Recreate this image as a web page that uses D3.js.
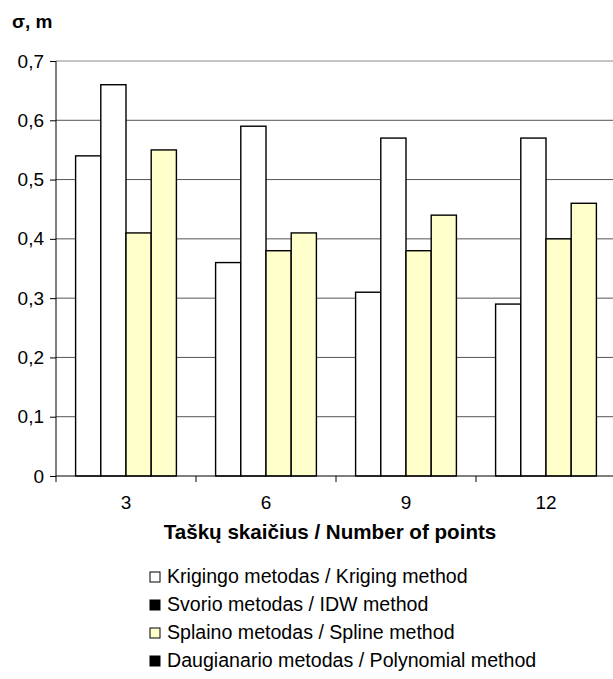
<!DOCTYPE html>
<html>
<head>
<meta charset="utf-8">
<script src="https://cdn.jsdelivr.net/npm/d3@7"></script>
<style>
  html, body { margin: 0; padding: 0; background: #fff; }
  svg { display: block; font-family: Arial, "Liberation Sans", sans-serif; }
</style>
</head>
<body>
<svg id="chart" width="613" height="679"></svg>
<script>
const categories = ["3", "6", "9", "12"];
const seriesNames = [
  "Krigingo metodas / Kriging method",
  "Svorio metodas / IDW method",
  "Splaino metodas / Spline method",
  "Daugianario metodas / Polynomial method"
];
const kriging    = [0.54, 0.36, 0.31, 0.29];
const idw        = [0.66, 0.59, 0.57, 0.57];
const spline     = [0.41, 0.38, 0.38, 0.40];
const polynomial = [0.55, 0.41, 0.44, 0.46];
const yTicks = [0, 0.1, 0.2, 0.3, 0.4, 0.5, 0.6, 0.7];
const barColors = ["#ffffff", "#ffffff", "#ffffcc", "#ffffcc"];
const legendColors = ["#ffffff", "#000000", "#ffffcc", "#000000"];
const yTitle = "σ, m";
const xTitle = "Taškų skaičius / Number of points";

const seriesValues = [kriging, idw, spline, polynomial];

const svg = d3.select("#chart");
const mLeft = 56, mRight = 616, mTop = 61, mBottom = 476;

const y = d3.scaleLinear().domain([0, 0.7]).range([mBottom, mTop]);
const x0 = d3.scaleBand().domain(categories).range([mLeft, mRight]).paddingInner(0.28).paddingOuter(0.14);
const x1 = d3.scaleBand().domain(d3.range(seriesNames.length)).range([0, x0.bandwidth()]);
const xb = d3.scaleLinear().domain([0, categories.length]).range([mLeft, mRight]);

// grid lines
svg.append("g").selectAll("line").data(yTicks.filter(d => d > 0)).join("line")
  .attr("x1", mLeft).attr("x2", mRight)
  .attr("y1", d => y(d)).attr("y2", d => y(d))
  .attr("stroke", d => d === 0.7 ? "#8a8a8a" : "#555").attr("stroke-width", 1);

// bars
const groups = svg.append("g").selectAll("g").data(categories).join("g")
  .attr("transform", c => `translate(${x0(c)},0)`);
groups.selectAll("rect").data((c, ci) => seriesValues.map((s, si) => ({si, v: s[ci]}))).join("rect")
  .attr("x", d => x1(d.si))
  .attr("width", x1.bandwidth())
  .attr("y", d => y(d.v))
  .attr("height", d => y(0) - y(d.v))
  .attr("fill", d => barColors[d.si])
  .attr("stroke", "#000").attr("stroke-width", 1.4);

// y axis
const yAxis = svg.append("g").attr("transform", `translate(${mLeft},0)`)
  .call(d3.axisLeft(y).tickValues(yTicks).tickSize(6).tickPadding(6)
    .tickFormat(d => d === 0 ? "0" : d3.format(".1f")(d).replace(".", ",")));
yAxis.select(".domain").attr("stroke", "#000").attr("d", `M0,${mBottom}V${mTop}`);
yAxis.selectAll(".tick line").attr("stroke", "#000");
yAxis.selectAll("text").attr("font-size", 19).attr("fill", "#000")
  .attr("font-family", "Arial, 'Liberation Sans', sans-serif");

// x axis
svg.append("line").attr("x1", mLeft).attr("x2", mRight).attr("y1", mBottom).attr("y2", mBottom)
  .attr("stroke", "#000").attr("stroke-width", 1.2);
svg.append("g").selectAll("line").data(d3.range(categories.length + 1)).join("line")
  .attr("x1", d => xb(d)).attr("x2", d => xb(d))
  .attr("y1", mBottom).attr("y2", mBottom + 6)
  .attr("stroke", "#000");
svg.append("g").selectAll("text").data(categories).join("text")
  .attr("x", c => x0(c) + x0.bandwidth() / 2)
  .attr("y", 509)
  .attr("text-anchor", "middle")
  .attr("font-size", 19)
  .text(c => c);

// titles
svg.append("text").attr("x", 12).attr("y", 28).attr("font-size", 19).attr("font-weight", "bold").text(yTitle);
svg.append("text").attr("x", 330).attr("y", 539).attr("text-anchor", "middle")
  .attr("font-size", 20.6).attr("font-weight", "bold").text(xTitle);

// legend
const lg = svg.append("g").selectAll("g").data(seriesNames).join("g")
  .attr("transform", (d, i) => `translate(150,${583 + i * 28})`);
lg.append("rect").attr("x", 0).attr("y", -11).attr("width", 10).attr("height", 10)
  .attr("fill", (d, i) => legendColors[i]).attr("stroke", "#000").attr("stroke-width", 1);
lg.append("text").attr("x", 17).attr("y", 0).attr("font-size", 19.6).text(d => d);
</script>
</body>
</html>
